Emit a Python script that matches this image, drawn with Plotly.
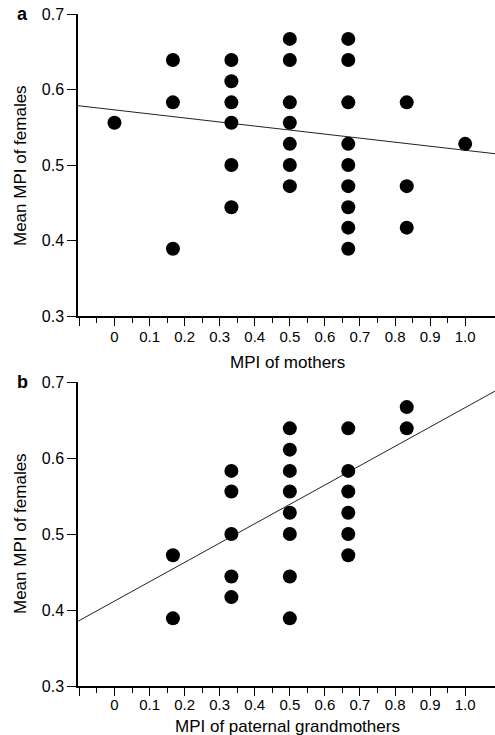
import plotly.graph_objects as go

# ---- data ----
# Panel a: MPI of mothers vs mean MPI of females
a_x = [0.0,
       1/6, 1/6, 1/6,
       1/3, 1/3, 1/3, 1/3, 1/3, 1/3,
       1/2, 1/2, 1/2, 1/2, 1/2, 1/2, 1/2,
       2/3, 2/3, 2/3, 2/3, 2/3, 2/3, 2/3, 2/3, 2/3,
       5/6, 5/6, 5/6,
       1.0]
a_y = [0.556,
       0.639, 0.583, 0.389,
       0.639, 0.611, 0.583, 0.556, 0.500, 0.444,
       0.667, 0.639, 0.583, 0.556, 0.528, 0.500, 0.472,
       0.667, 0.639, 0.583, 0.528, 0.500, 0.472, 0.444, 0.417, 0.389,
       0.583, 0.472, 0.417,
       0.528]
a_line_intercept = 0.573
a_line_slope = -0.0535

# Panel b: MPI of paternal grandmothers vs mean MPI of females
b_x = [1/6, 1/6,
       1/3, 1/3, 1/3, 1/3, 1/3,
       1/2, 1/2, 1/2, 1/2, 1/2, 1/2, 1/2, 1/2,
       2/3, 2/3, 2/3, 2/3, 2/3, 2/3,
       5/6, 5/6]
b_y = [0.472, 0.389,
       0.583, 0.556, 0.500, 0.444, 0.417,
       0.639, 0.611, 0.583, 0.556, 0.528, 0.500, 0.444, 0.389,
       0.639, 0.583, 0.556, 0.528, 0.500, 0.472,
       0.667, 0.639]
b_line_intercept = 0.4117
b_line_slope = 0.2546

x_tick_vals = [-0.1, 0, 0.1, 0.2, 0.3, 0.4, 0.5, 0.6, 0.7, 0.8, 0.9, 1.0]
x_tick_text = ["", "0", "0.1", "0.2", "0.3", "0.4", "0.5", "0.6", "0.7", "0.8", "0.9", "1.0"]
x_minor_vals = [-0.05, 0.05, 0.15, 0.25, 0.35, 0.45, 0.55, 0.65, 0.75, 0.85, 0.95]
y_tick_vals = [0.3, 0.4, 0.5, 0.6, 0.7]
y_tick_text = ["0.3", "0.4", "0.5", "0.6", "0.7"]

X_RANGE = [-0.104, 1.085]
Y_RANGE = [0.3, 0.7]

FONT = "Liberation Sans, Arial, Helvetica, sans-serif"

fig = go.Figure()

def add_panel(xs, ys, intercept, slope, xa, ya):
    lx = X_RANGE
    ly = [intercept + slope * v for v in lx]
    fig.add_trace(go.Scatter(x=lx, y=ly, mode="lines",
                             line=dict(color="#222222", width=1),
                             xaxis=xa, yaxis=ya, hoverinfo="skip",
                             showlegend=False))
    fig.add_trace(go.Scatter(x=xs, y=ys, mode="markers",
                             marker=dict(color="black", size=14, line=dict(width=0)),
                             xaxis=xa, yaxis=ya, showlegend=False,
                             cliponaxis=False))

add_panel(a_x, a_y, a_line_intercept, a_line_slope, "x", "y")
add_panel(b_x, b_y, b_line_intercept, b_line_slope, "x2", "y2")

W, H = 495, 735
x_dom = [78 / W, 1.0]
a_dom = [1 - 316 / H, 1 - 14 / H]
b_dom = [1 - 686 / H, 1 - 382 / H]

def xaxis(anchor, standoff):
    return dict(domain=x_dom, anchor=anchor, range=X_RANGE, automargin=False,
                showline=True, linecolor="black", linewidth=1.5,
                showgrid=False, zeroline=False,
                tickmode="array", tickvals=x_tick_vals, ticktext=x_tick_text,
                ticks="outside", ticklen=8, tickwidth=1.2, tickcolor="black",
                ticklabelstandoff=standoff,
                minor=dict(tickmode="array", tickvals=x_minor_vals,
                           ticks="outside", ticklen=5, tickwidth=1.2,
                           tickcolor="black", showgrid=False),
                tickfont=dict(family=FONT, size=15, color="black"))

def yaxis(anchor, dom):
    return dict(domain=dom, anchor=anchor, range=Y_RANGE, automargin=False,
                showline=True, linecolor="black", linewidth=1.5,
                showgrid=False, zeroline=False,
                tickmode="array", tickvals=y_tick_vals, ticktext=y_tick_text,
                ticks="outside", ticklen=9, tickwidth=1.2, tickcolor="black",
                tickfont=dict(family=FONT, size=16, color="black"))

def label(text, x, y, size, angle=0):
    return dict(text=text, x=x / W, y=1 - y / H, xref="paper", yref="paper",
                xanchor="center", yanchor="middle", showarrow=False,
                textangle=angle, font=dict(family=FONT, size=size, color="black"))

fig.update_layout(
    width=W, height=H,
    margin=dict(l=0, r=0, t=0, b=0, autoexpand=False),
    paper_bgcolor="white", plot_bgcolor="white",
    xaxis=xaxis("y", -2),
    yaxis=yaxis("x", a_dom),
    xaxis2=xaxis("y2", -4),
    yaxis2=yaxis("x2", b_dom),
    annotations=[
        label("<b>a</b>", 22, 14, 18),
        label("<b>b</b>", 22, 382, 18),
        label("MPI of mothers", 287, 362, 17),
        label("MPI of paternal grandmothers", 287, 726, 17),
        label("Mean MPI of females", 20, 166, 17, -90),
        label("Mean MPI of females", 20, 534, 17, -90),
    ],
)

fig.write_html("out.html",
               config={"displayModeBar": False},
               post_script="document.body.style.margin='0';"
                           "document.body.style.overflow='hidden';")
